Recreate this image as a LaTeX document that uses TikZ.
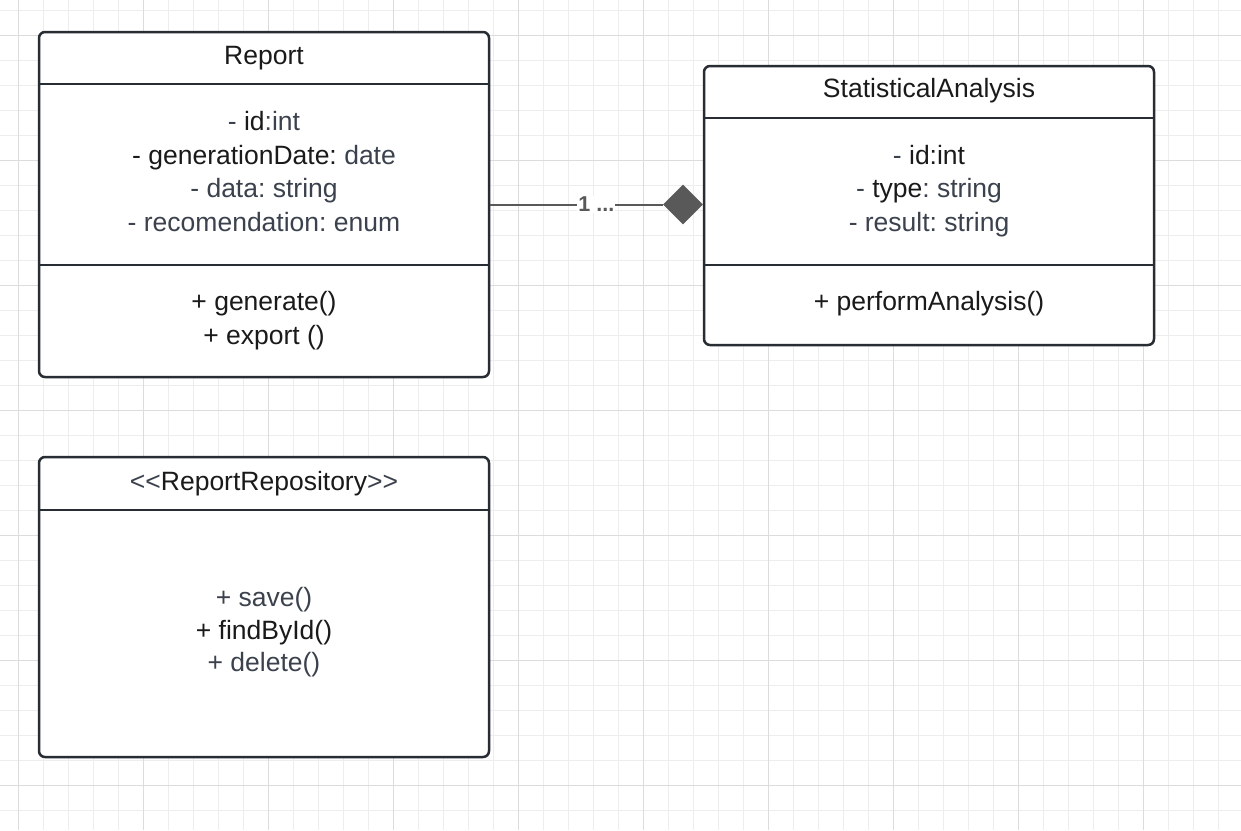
\documentclass[tikz,border=0pt]{standalone}
\usepackage{fontspec}
\setmainfont{Liberation Sans}[Ligatures=TeXOff]
\usetikzlibrary{shapes.geometric}
\definecolor{gridminor}{HTML}{EDEDED}
\definecolor{gridmajor}{HTML}{DCDCDC}
\definecolor{boxline}{HTML}{282C33}
\definecolor{tblk}{HTML}{1A1A1A}
\definecolor{tgry}{HTML}{3B424D}
\definecolor{connc}{HTML}{595959}
\newcommand{\kb}[1]{\textcolor{tblk}{#1}}
\frenchspacing
\begin{document}
\begin{tikzpicture}[x=1pt,y=-1pt,
  classbox/.style={draw=boxline, line width=2.5pt, rounded corners=6pt, fill=white, inner sep=0pt},
  sepline/.style={draw=boxline, line width=2.5pt},
  txt/.style={anchor=base, inner sep=0pt, text=tgry, font=\fontsize{26.5}{32}\selectfont},
  hdr/.style={txt, text=tblk},
  conn/.style={draw=connc, line width=2pt},
  mult/.style={font=\fontsize{21.5}{24}\selectfont\bfseries, text=connc, fill=white, inner sep=1pt},
  comp/.style={diamond, fill=connc, minimum width=40pt, minimum height=40pt, inner sep=0pt, aspect=1},
  gmin/.style={draw=gridminor, line width=1pt},
  gmaj/.style={draw=gridmajor, line width=1pt}]
\fill[white] (0,0) rectangle (1241,830);
\useasboundingbox (0,0) rectangle (1241,830);
% grid
\foreach \x in {18,43,...,1241} \draw[gmin] (\x,0) -- (\x,830);
\foreach \y in {10,35,...,830} \draw[gmin] (0,\y) -- (1241,\y);
\foreach \x in {18,143,...,1241} \draw[gmaj] (\x,0) -- (\x,830);
\foreach \y in {35,160,...,830} \draw[gmaj] (0,\y) -- (1241,\y);
% Report
\node[classbox, minimum width=450pt, minimum height=345pt] (report) at (264,204.5) {};
\draw[sepline] (report.west |- 0,84) -- (report.east |- 0,84);
\draw[sepline] (report.west |- 0,265) -- (report.east |- 0,265);
\node[hdr] (rt) at (264,64.5) {Report};
\node[txt] (ra1) at (264,130.5) {- \kb{id}:int};
\node[txt] (ra2) at (264,164) {\kb{- generationDate:} date};
\node[txt] (ra3) at (264,197.5) {- data: string};
\node[txt] (ra4) at (264,231) {- recomendation: enum};
\node[hdr] (rm1) at (264,310.5) {+ generate()};
\node[hdr] (rm2) at (264,344) {+ export ()};
% StatisticalAnalysis
\node[classbox, minimum width=450pt, minimum height=279pt] (sa) at (929,205.5) {};
\draw[sepline] (sa.west |- 0,118) -- (sa.east |- 0,118);
\draw[sepline] (sa.west |- 0,265) -- (sa.east |- 0,265);
\node[hdr] (st) at (929,97.5) {StatisticalAnalysis};
\node[txt] (sa1) at (929,164.3) {- \kb{id:int}};
\node[txt] (sa2) at (929,197.7) {- \kb{type}: string};
\node[txt] (sa3) at (929,231) {- result: string};
\node[hdr] (sm1) at (929,310) {+ performAnalysis()};
% ReportRepository
\node[classbox, minimum width=450pt, minimum height=300pt] (rr) at (264,607) {};
\draw[sepline] (rr.west |- 0,510) -- (rr.east |- 0,510);
\node[txt] (rrt) at (264,490) {<<\kb{ReportRepository}>>};
\node[txt] (rr1) at (264,606) {+ save()};
\node[hdr] (rr2) at (264,639.3) {+ findById()};
\node[txt] (rr3) at (264,671.7) {+ delete()};
% composition
\node[comp] (dia) at (683,204.5) {};
\draw[conn] (report.east) -- node[mult, pos=0.615] (mlt) {1 ...} (dia.west);
\end{tikzpicture}
\end{document}
